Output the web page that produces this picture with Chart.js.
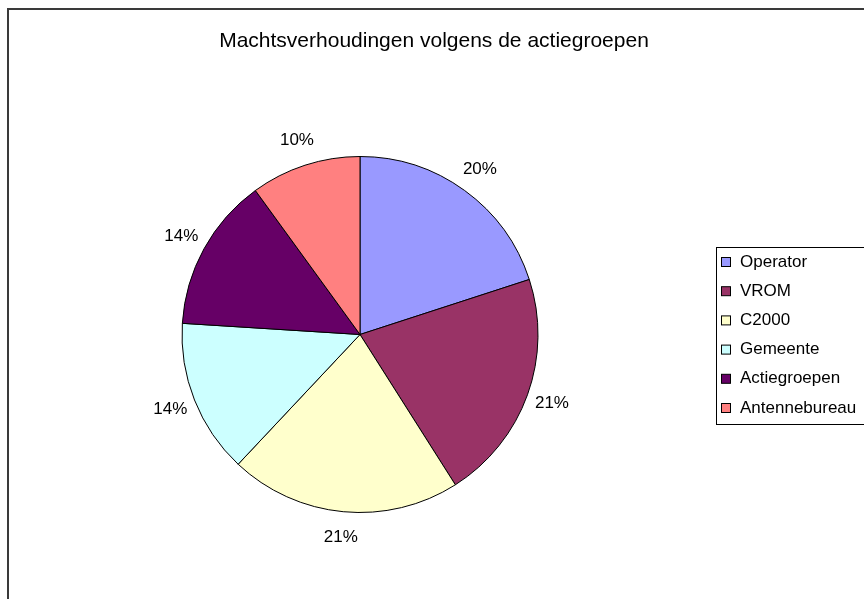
<!DOCTYPE html>
<html>
<head>
<meta charset="utf-8">
<script src="https://cdn.jsdelivr.net/npm/chart.js@4.4.1/dist/chart.umd.min.js"></script>
<style>
  html, body { margin: 0; padding: 0; background: #fff; }
  #wrap { width: 864px; height: 599px; }
</style>
</head>
<body>
<div id="wrap"><canvas id="myChart" width="864" height="599"></canvas></div>
<script>
const title = 'Machtsverhoudingen volgens de actiegroepen';
const labels = ['Operator', 'VROM', 'C2000', 'Gemeente', 'Actiegroepen', 'Antennebureau'];
const values = [20, 21, 21, 14, 14, 10];
const colors = ['#9999FF', '#993366', '#FFFFCC', '#CCFFFF', '#660066', '#FF8080'];

const FONT = '"Liberation Sans", Arial, sans-serif';

// frame, title and legend box, drawn by hand like the excel chart
const excelLook = {
  id: 'excelLook',
  beforeDraw(chart) {
    const c = chart.ctx;
    c.save();
    c.fillStyle = '#fff';
    c.fillRect(0, 0, chart.width, chart.height);
    c.strokeStyle = '#3a3a3a';
    c.lineWidth = 2;
    c.beginPath();
    c.moveTo(8, chart.height + 2);
    c.lineTo(8, 9);
    c.lineTo(chart.width + 2, 9);
    c.stroke();
    c.fillStyle = '#000';
    c.font = '21px ' + FONT;
    c.textAlign = 'center';
    c.textBaseline = 'alphabetic';
    c.fillText(title, 434, 47);
    c.restore();
  },
  afterDraw(chart) {
    const c = chart.ctx;
    c.save();
    // legend
    c.strokeStyle = '#000';
    c.lineWidth = 1;
    c.strokeRect(716.5, 247.5, 160, 177);
    c.font = '17px ' + FONT;
    c.textBaseline = 'middle';
    c.textAlign = 'left';
    labels.forEach(function(l, i) {
      const y = 262 + i * 29.2;
      c.fillStyle = colors[i];
      c.fillRect(721.5, y - 4.5, 9, 9);
      c.strokeRect(721.5, y - 4.5, 9, 9);
      c.fillStyle = '#000';
      c.fillText(l, 740, y);
    });
    // percentage labels outside the slices
    const meta = chart.getDatasetMeta(0);
    const total = values.reduce((a, b) => a + b, 0);
    meta.data.forEach(function(arc, i) {
      const p = arc.getProps(['x', 'y', 'startAngle', 'endAngle', 'outerRadius'], true);
      const mid = (p.startAngle + p.endAngle) / 2;
      const r = p.outerRadius + 26;
      const pct = Math.round(values[i] / total * 100) + '%';
      c.textAlign = 'center';
      c.fillText(pct, p.x + Math.cos(mid) * r, p.y + Math.sin(mid) * r);
    });
    c.restore();
  }
};

const ctx = document.getElementById('myChart').getContext('2d');
const myChart = new Chart(ctx, {
  type: 'pie',
  data: {
    labels: labels,
    datasets: [{
      data: values,
      backgroundColor: colors,
      borderColor: '#000',
      borderWidth: 1
    }]
  },
  options: {
    responsive: false,
    animation: false,
    layout: { padding: { left: 181, top: 156, right: 325, bottom: 86 } },
    plugins: {
      legend: { display: false },
      title: { display: false },
      tooltip: { enabled: false }
    }
  },
  plugins: [excelLook]
});
</script>
</body>
</html>
